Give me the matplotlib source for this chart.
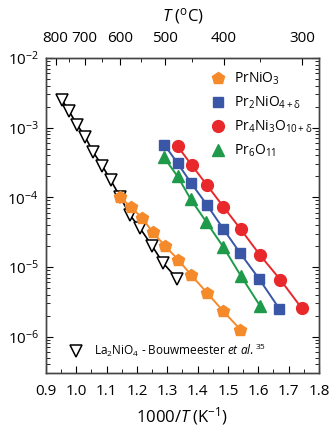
import numpy as np
import matplotlib
matplotlib.use("Agg")
import matplotlib.pyplot as plt
from matplotlib.ticker import FixedLocator, LogLocator, NullFormatter, MultipleLocator

plt.rcParams['font.family'] = ['Open Sans', 'DejaVu Sans']
plt.rcParams['mathtext.fontset'] = 'custom'
plt.rcParams['mathtext.rm'] = 'Open Sans'
plt.rcParams['mathtext.it'] = 'Open Sans:italic'
plt.rcParams['mathtext.default'] = 'regular'

# La2NiO4 (Bouwmeester)
la_x = [0.953, 0.976, 1.002, 1.029, 1.055, 1.085, 1.114, 1.144, 1.177, 1.210, 1.249, 1.286, 1.332]
la_y = [2.48e-3, 1.73e-3, 1.11e-3, 7.4e-4, 4.5e-4, 2.85e-4, 1.75e-4, 1.02e-4, 5.55e-5, 3.6e-5, 2.03e-5, 1.14e-5, 6.8e-6]

# PrNiO3
pn_x = [1.144, 1.179, 1.216, 1.252, 1.292, 1.336, 1.378, 1.432, 1.485, 1.541]
pn_y = [1.01e-4, 7.3e-5, 5.1e-5, 3.14e-5, 2.01e-5, 1.27e-5, 7.7e-6, 4.2e-6, 2.3e-6, 1.26e-6]

# Pr2NiO4+d
p2_x = [1.290, 1.334, 1.378, 1.430, 1.485, 1.540, 1.602, 1.669]
p2_y = [5.7e-4, 3.08e-4, 1.61e-4, 7.85e-5, 3.5e-5, 1.58e-5, 6.8e-6, 2.52e-6]

# Pr4Ni3O10+d
p4_x = [1.334, 1.380, 1.430, 1.485, 1.542, 1.606, 1.672, 1.743]
p4_y = [5.4e-4, 2.91e-4, 1.51e-4, 7.3e-5, 3.47e-5, 1.47e-5, 6.6e-6, 2.56e-6]

# Pr6O11
p6_x = [1.289, 1.334, 1.377, 1.428, 1.485, 1.542, 1.606]
p6_y = [3.74e-4, 1.99e-4, 9.4e-5, 4.46e-5, 1.92e-5, 7.5e-6, 2.75e-6]

top_T = [800, 700, 600, 500, 400, 300]
top_T_minor = [750, 650, 550, 450, 350]

orange = '#F58A2B'
blue = '#3A57A7'
red = '#E8282B'
green = '#1E9A4A'

fig = plt.figure(figsize=(3.29, 4.26), dpi=100)
ax = fig.add_axes([0.1398, 0.1244, 0.8298, 0.7394])

l_la, = ax.plot(la_x, la_y, '-', color='black', lw=1.2, marker='v', ms=8,
                mfc='white', mec='black', mew=1.1)
l_pn, = ax.plot(pn_x, pn_y, '-', color=orange, lw=1.4, marker='p', ms=9,
                mfc=orange, mec=orange)
l_p2, = ax.plot(p2_x, p2_y, '-', color=blue, lw=1.4, marker='s', ms=7.5,
                mfc=blue, mec=blue)
l_p4, = ax.plot(p4_x, p4_y, '-', color=red, lw=1.4, marker='o', ms=8.5,
                mfc=red, mec=red)
l_p6, = ax.plot(p6_x, p6_y, '-', color=green, lw=1.4, marker='^', ms=8.5,
                mfc=green, mec=green)

ax.set_yscale('log')
ax.set_xlim(0.9, 1.8)
ax.xaxis.set_major_locator(MultipleLocator(0.1))
ax.xaxis.set_minor_locator(MultipleLocator(0.05))
ax.set_xticklabels([f'{v:.1f}' for v in ax.get_xticks()])
ax.yaxis.set_minor_locator(LogLocator(base=10, subs=np.arange(2, 10), numticks=10))
ax.yaxis.set_minor_formatter(NullFormatter())
ax.set_yticks([1e-6, 1e-5, 1e-4, 1e-3, 1e-2])
ax.set_yticklabels(['$10^{-6}$', '$10^{-5}$', '$10^{-4}$', '$10^{-3}$', '$10^{-2}$'])
ax.set_ylim(3e-7, 1e-2)
ax.tick_params(which='both', direction='in', right=True, labelsize=11, pad=5)
ax.tick_params(which='major', length=5)
ax.tick_params(which='minor', length=3)
ax.tick_params(axis='x', pad=8)
ax.set_xlabel('1000/$\\mathit{T}$ (K$^{-1}$)', fontsize=12, labelpad=4)

# top axis in degrees C
ax2 = ax.twiny()
ax2.set_xlim(ax.get_xlim())
ax2.xaxis.set_major_locator(FixedLocator([1000 / (t + 273.15) for t in top_T]))
ax2.xaxis.set_minor_locator(FixedLocator([1000 / (t + 273.15) for t in top_T_minor]))
ax2.set_xticklabels([str(t) for t in top_T])
ax2.tick_params(which='both', direction='in', labelsize=11, pad=9)
ax2.tick_params(which='major', length=5)
ax2.tick_params(which='minor', length=3)
ax2.set_xlabel('$\\mathit{T}$ ($^{o}$C)', fontsize=12, labelpad=7)

for a in (ax, ax2):
    for s in a.spines.values():
        s.set_color('#444444')
        s.set_linewidth(1.0)

leg1 = ax.legend([l_pn, l_p2, l_p4, l_p6],
                 ['PrNiO$_3$', 'Pr$_2$NiO$_{4+δ}$', 'Pr$_4$Ni$_3$O$_{10+δ}$', 'Pr$_6$O$_{11}$'],
                 loc='upper right', bbox_to_anchor=(1.02, 1.0), frameon=False,
                 fontsize=10, handlelength=1.0, handletextpad=0.6, labelspacing=0.55,
                 numpoints=1)
for h in leg1.legend_handles:
    h.set_linestyle('None')
ax.add_artist(leg1)

leg2 = ax.legend([l_la], ['La$_2$NiO$_4$ - Bouwmeester $\\mathit{et\\ al.}^{35}$'],
                 loc='lower left', bbox_to_anchor=(0.05, 0.01), frameon=False,
                 fontsize=8.5, handlelength=1.0, handletextpad=1.0, numpoints=1)
for h in leg2.legend_handles:
    h.set_linestyle('None')

fig.savefig('out.png', dpi=100)
